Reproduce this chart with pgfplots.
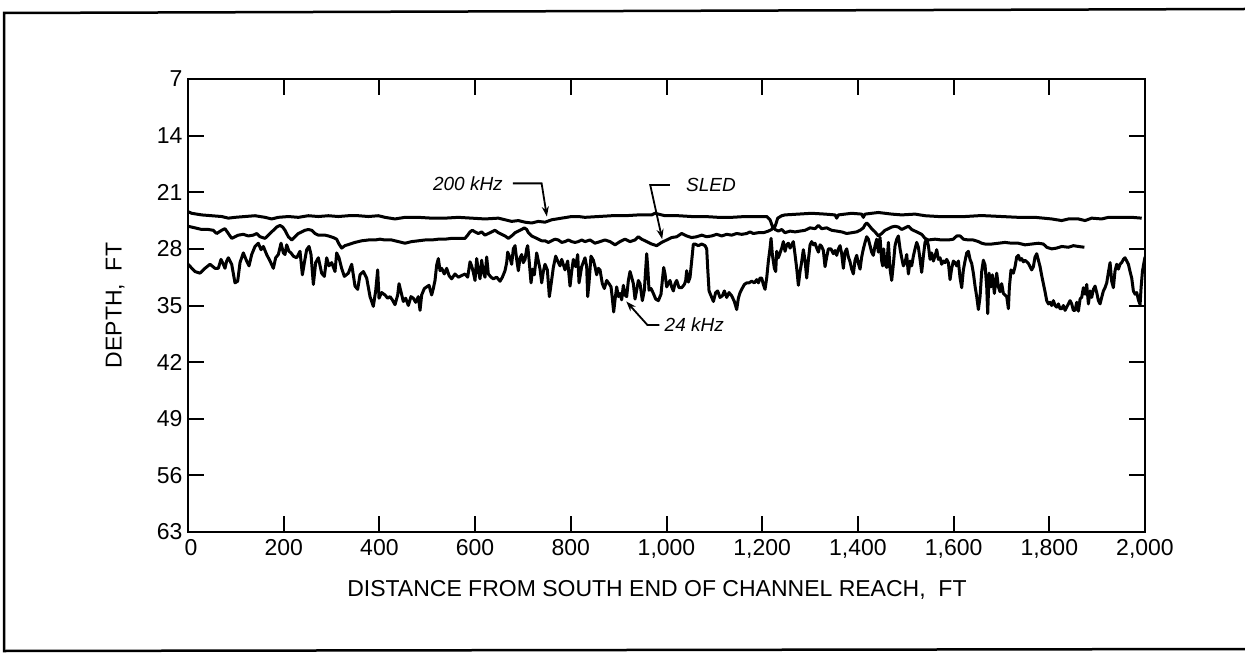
\documentclass[border=0pt]{standalone}
\usepackage{fontspec}
\setmainfont{Liberation Sans}
\usepackage{pgfplots}
\pgfplotsset{compat=1.18}
\usetikzlibrary{arrows.meta}
\begin{document}
\begin{tikzpicture}
\path[use as bounding box] (0pt,0pt) rectangle (1245pt,665pt);
\draw[line width=2.5pt] (1245pt,656pt) -- (4pt,652pt) -- (4pt,14pt) -- (1245pt,16pt);
\begin{axis}[
  at={(188pt,133pt)}, anchor=south west, scale only axis,
  width=957pt, height=453pt,
  xmin=0, xmax=2000, ymin=7, ymax=63, y dir=reverse,
  xtick={0,200,...,2000},
  xticklabels={\raisebox{-5pt}{\hspace{6pt}0},200,400,600,800,{1,000},{1,200},{1,400},{1,600},{1,800},{2,000}},
  ytick={7,14,...,63},
  tick align=inside, major tick length=16pt,
  axis line style={line width=2.6pt},
  tick style={line width=2pt, black},
  /pgf/number format/assume math mode=true,
  tick label style={font=\fontsize{23}{26}\selectfont},
  xticklabel style={yshift=-4pt},
  yticklabel style={xshift=-2pt},
  label style={font=\fontsize{23}{26}\selectfont},
  xlabel={DISTANCE FROM SOUTH END OF CHANNEL REACH,\ \ FT},
  ylabel={DEPTH,\ \ FT},
  xlabel style={at={(axis description cs:0.49,-0.128)}, anchor=center},
  ylabel style={at={(axis description cs:-0.076,0.5)}, anchor=center},
  clip=true,
]
% 200 kHz
\addplot[black, line width=3pt, line join=round] coordinates {
(0,23.4)(7.7,23.6)(28.6,23.8)(49.4,23.9)(70.4,24.0)(84.3,24.2)(98.2,24.1)(119.1,24.0)(140,23.9)(160.9,24.1)(174.9,24.3)(188.8,24.1)(209.7,24.0)(230.6,24.1)(251.5,23.9)(272.4,24.0)(293.3,23.9)(314.2,24.0)(335.1,23.9)(356,23.9)(377,24.0)(397.9,23.9)(411.7,24.1)(432.6,24.3)(453.5,24.1)(481.4,24.1)(509.2,24.2)(537.1,24.2)(565,24.1)(592.8,24.2)(620.7,24.3)(648.6,24.2)(662.5,24.4)(676.4,24.6)(690.4,24.5)(704.3,24.7)(718.2,24.8)(732.2,24.6)(746.1,24.7)(760.1,24.4)(781,24.2)(801.8,24.0)(815.8,24.0)(829.7,24.1)(857.6,24.0)(885.4,23.9)(913.3,23.9)(941.2,23.8)(969,23.8)(976,23.6)(996.9,23.9)(1024.8,23.9)(1052.6,24.0)(1080.5,24.0)(1108.4,24.1)(1136.2,24.1)(1164.1,24.0)(1192,24.0)(1209.4,24.0)(1216.4,24.4)(1221.2,25.2)(1225.4,25.4)(1228.2,25.0)(1232.4,24.2)(1240.8,23.9)(1247.7,23.8)(1275.6,23.7)(1303.4,23.6)(1331.3,23.7)(1352.2,23.8)(1355.7,24.2)(1359.2,23.8)(1387,23.6)(1407.9,23.7)(1411.4,24.1)(1414.9,23.7)(1442.8,23.5)(1470.6,23.7)(1491.5,23.8)(1519.4,23.7)(1540.3,23.9)(1568.2,24.0)(1596,24.0)(1623.9,24.0)(1651.8,23.9)(1665.7,23.9)(1700.5,24.0)(1735.4,24.1)(1770.2,24.1)(1805,24.3)(1825.9,24.5)(1839.9,24.3)(1860.8,24.3)(1874.7,24.5)(1888.6,24.2)(1909.5,24.3)(1923.5,24.1)(1944.4,24.1)(1972.2,24.1)(1993.1,24.2)
};
% SLED
\addplot[black, line width=3pt, line join=round] coordinates {
(0,25.2)(14.6,25.4)(28.6,25.6)(42.5,25.6)(52.9,25.7)(59.9,26.1)(70.4,25.7)(77.3,25.5)(84.3,26.1)(91.3,26.7)(98.2,26.5)(105.2,26.3)(115.6,26.2)(126.1,26.4)(136.5,26.3)(143.5,26.1)(150.5,26.5)(160.9,26.7)(171.4,26.1)(178.4,25.7)(185.3,25.3)(192.3,25.1)(197.9,25.3)(202.7,25.7)(209.7,26.5)(216.7,26.9)(223.6,26.5)(230.6,26.1)(237.6,25.9)(244.6,25.7)(251.5,25.6)(258.5,25.7)(265.5,26.1)(272.4,26.3)(279.4,26.3)(286.4,26.3)(293.3,26.4)(303.8,26.6)(310.7,26.8)(315.6,27.4)(321.1,27.9)(328.1,27.6)(338.6,27.4)(349,27.2)(363,27.0)(377,26.9)(390.9,26.9)(401.3,26.8)(411.7,26.9)(425.6,26.9)(439.6,27.1)(453.5,27.3)(467.4,27.1)(481.4,27.0)(495.3,26.9)(509.2,26.9)(523.2,26.8)(537.1,26.8)(551,26.7)(565,26.7)(578.9,26.7)(584.5,26.3)(589.4,25.9)(594.2,25.7)(599.8,25.9)(606.8,26.1)(613.7,25.9)(620.7,26.3)(627.7,26.1)(634.6,25.9)(641.6,25.7)(648.6,26.0)(655.5,26.2)(662.5,26.4)(669.5,26.7)(676.4,26.4)(683.4,26.0)(690.4,25.8)(697.3,25.6)(702.9,25.4)(707.8,25.6)(711.3,26.0)(718.2,26.4)(725.2,26.6)(732.2,26.8)(739.2,27.0)(746.1,27.0)(753.1,27.2)(760.1,27.0)(767,26.8)(774,26.9)(781,27.2)(787.9,27.1)(794.9,26.9)(801.8,27.1)(808.8,27.2)(815.8,27.1)(822.7,26.9)(829.7,27.1)(840.2,26.9)(850.6,27.3)(861.1,27.1)(871.5,26.9)(882,27.1)(892.4,27.5)(902.9,27.1)(913.3,26.8)(923.8,27.1)(934.2,26.9)(941.2,26.5)(948.1,26.8)(958.6,27.1)(969,27.4)(979.5,27.6)(989.9,27.2)(1000.4,26.9)(1010.8,26.6)(1021.3,26.5)(1031.7,26.1)(1042.2,26.4)(1052.6,26.6)(1063.1,26.5)(1073.5,26.3)(1084,26.5)(1094.4,26.4)(1104.9,26.2)(1115.3,26.4)(1125.8,26.2)(1136.2,26.3)(1146.7,26.1)(1157.1,26.2)(1167.6,26.1)(1174.6,25.9)(1181.5,26.1)(1192,26.0)(1202.4,26.0)(1212.9,25.8)(1219.9,25.6)(1223.3,25.2)(1226.8,25.6)(1233.8,25.8)(1240.8,25.6)(1247.7,26.0)(1258.2,25.8)(1268.6,25.9)(1279.1,25.8)(1289.5,25.7)(1300,25.4)(1310.4,25.5)(1317.4,25.1)(1324.3,25.5)(1334.8,25.4)(1345.2,25.7)(1355.7,25.8)(1366.1,25.9)(1376.6,26.1)(1387,26.0)(1397.5,25.9)(1404.5,25.7)(1411.4,25.4)(1414.9,25.0)(1418.4,24.8)(1421.9,25.0)(1428.8,25.5)(1435.8,25.9)(1442.8,26.4)(1449.7,26.1)(1456.7,25.7)(1463.7,25.5)(1470.6,25.3)(1477.6,25.2)(1484.6,25.3)(1491.5,25.6)(1498.5,25.4)(1505.5,25.2)(1512.4,25.6)(1519.4,25.8)(1526.4,26.0)(1533.3,26.2)(1540.3,26.7)(1547.3,26.9)(1561.2,26.8)(1575.1,26.9)(1589.1,26.9)(1599.5,26.8)(1606.5,26.4)(1613.5,26.4)(1620.4,26.8)(1630.9,26.9)(1641.3,26.9)(1651.8,27.1)(1658.7,27.3)(1665.7,27.4)(1679.6,27.4)(1693.6,27.3)(1707.5,27.2)(1721.4,27.3)(1735.4,27.3)(1749.3,27.5)(1763.2,27.4)(1777.2,27.3)(1787.6,27.4)(1794.6,27.8)(1805,28.0)(1815.5,27.9)(1825.9,27.7)(1839.9,27.8)(1850.3,27.6)(1860.8,27.7)(1873.3,27.8)
};
% 24 kHz
\addplot[black, line width=3pt, line join=round] coordinates {
(0,29.9)(14.6,30.8)(25,31.0)(35.5,30.4)(46,29.9)(56.4,30.4)(63.4,30.4)(69,29.3)(73.8,29.9)(77.3,30.4)(80.8,29.5)(84.3,29.1)(91.3,29.9)(98.2,32.2)(103.8,32.0)(108.7,29.7)(115.6,28.5)(122.6,29.5)(127.5,30.1)(133.1,28.7)(140,27.7)(147,27.3)(152.6,28.1)(157.5,27.7)(164.4,28.7)(171.4,29.5)(178.4,30.4)(183.2,29.1)(188.8,28.7)(194.4,27.3)(199.3,28.5)(202.7,28.7)(206.2,27.5)(211.1,28.3)(215.3,28.5)(220.2,28.9)(227.1,29.1)(234.1,28.3)(239,31.2)(243.2,29.7)(248,28.1)(252.9,27.7)(257.1,28.7)(262,32.4)(266.8,29.7)(272.4,29.1)(279.3,31.0)(285,31.4)(289.8,29.1)(294.7,30.1)(300.3,29.7)(307.2,30.8)(310.7,28.5)(315.6,29.1)(321.1,30.4)(326.7,31.4)(335.1,31.0)(342.1,29.9)(349,32.6)(354.6,33.0)(359.5,31.2)(366.5,30.8)(373.4,31.6)(380.4,33.9)(387.3,35.1)(392.2,33.2)(396.4,30.6)(399.2,34.1)(404.8,33.4)
(411.7,33.7)(417.3,34.1)(422.2,33.9)(427,34.3)(432.6,34.9)(438.2,33.7)(441,32.3)(445.1,33.3)(450,34.5)(454.9,34.1)(460.5,35.0)(466,33.9)(470.9,34.1)(475.8,34.6)(481.4,33.9)(484.9,35.6)(488.3,33.7)(493.9,32.9)(498.8,32.7)(503.7,32.5)(509.2,33.7)(512.7,32.9)(516.2,31.9)(519.7,30.0)(523.2,29.2)(526.7,30.7)(530.1,30.4)(535.7,31.1)(540.6,30.4)(545.5,31.3)(551,31.7)(558,31.1)(565,31.5)(571.9,31.3)(578.9,31.1)(584.5,31.5)(589.4,29.6)(592.8,30.1)(596.3,30.9)(599.8,31.9)(603.3,29.2)(606.8,30.7)(610.3,31.7)(613.7,29.4)(617.2,30.9)(620.7,31.5)(624.2,29.0)(627.7,31.1)(633.3,31.5)(638.1,31.7)(645.1,31.5)(652.1,32.0)(657,31.5)(662.5,30.7)(666,29.7)(668.1,28.4)(673,29.1)(676.4,29.9)(679.9,28.0)(683.4,27.6)(686.9,29.3)(690.4,30.7)(693.9,29.1)(697.3,28.7)(700.8,29.7)(704.3,29.3)(707.8,28.0)(709.9,27.6)(712.7,29.3)(716.9,32.2)(720.3,30.5)(723.8,31.2)(728.7,28.5)(732.2,29.5)(735.7,30.5)(739.2,32.2)(742.6,30.8)(746.1,29.9)(751,30.6)(755.2,33.9)(760.1,31.8)(763.5,30.3)(768.4,28.9)(772.6,29.5)(777.5,30.1)(781,29.3)(787.9,30.6)(793.5,29.5)(798.4,32.6)(801.8,30.8)(805.3,29.3)(810.2,30.2)(814.4,28.7)(817.2,32.2)(822.7,30.2)
(829.7,29.1)(833.2,30.2)(835.3,33.9)(838.1,32.2)(842.2,28.9)(847.1,29.4)(850.6,30.2)(854.1,31.2)(857.6,30.4)(861.1,30.6)(865.9,32.3)(870.1,32.9)(875,31.9)(879.9,32.3)(884.1,32.7)(886.8,34.1)(889.6,35.8)(892.4,34.3)(895.9,32.7)(899.4,33.9)(902.9,33.5)(906.3,34.3)(909.8,32.5)(913.3,33.7)(916.8,33.9)(920.3,31.9)(923.8,30.8)(927.2,31.5)(930.7,32.3)(934.2,34.2)(937.7,33.1)(941.2,31.9)(944.7,32.3)(949.5,34.4)(953.7,33.1)(958.6,28.6)(960.7,30.2)(963.5,33.1)(967.7,32.9)(972.5,33.5)(977.4,34.2)(983,34.4)(988.5,33.6)(991.3,31.9)(994.1,30.3)(996.9,31.1)(1000.4,32.7)(1003.9,32.3)(1007.3,31.9)(1010.8,32.7)(1014.3,33.2)(1017.8,32.3)(1021.3,31.9)(1026.2,32.8)(1031.7,32.8)(1037.3,32.4)(1040.1,31.9)(1042.2,30.7)(1045.7,32.1)(1049.2,31.5)(1052.6,29.5)(1056.1,27.4)(1059.6,27.4)(1066.6,27.6)(1073.5,27.4)(1080.5,27.6)(1084,28.0)(1086.1,30.4)(1088.9,33.2)(1093.1,33.8)(1098,34.5)(1102.8,33.4)(1107,33.2)(1111.9,34.0)(1116.8,33.8)(1120.9,33.2)(1125.8,34.0)(1130.7,33.4)(1136.2,33.8)(1141.8,34.5)(1146.7,35.5)(1150.2,34.1)(1153.7,33.4)(1157.1,33.0)(1162.7,32.4)(1167.6,32.2)(1172.5,32.2)(1178,32.0)(1183.6,32.2)(1188.5,31.8)(1192,32.2)(1195.5,31.6)(1198.9,31.6)(1202.4,32.4)(1205.9,33.0)(1209.4,31.6)(1212.9,29.5)(1216.4,27.9)(1218.5,26.7)(1221.2,28.7)(1225.4,30.4)(1228.2,30.8)(1230.3,28.3)(1233.8,29.1)(1237.3,28.5)(1240.8,27.9)(1244.2,27.1)
(1247.7,28.3)(1251.2,27.5)(1254.7,27.3)(1258.2,27.9)(1261.6,27.5)(1265.1,27.1)(1268.6,28.7)(1272.1,30.4)(1275.6,32.5)(1279.1,30.8)(1282.5,29.6)(1286,28.1)(1289.5,29.4)(1293,31.6)(1296.5,29.4)(1300,27.5)(1303.4,27.1)(1306.9,27.5)(1310.4,27.3)(1313.9,27.9)(1317.4,28.4)(1320.9,27.5)(1324.3,27.7)(1327.8,28.2)(1331.3,30.2)(1334.8,29.0)(1338.3,28.0)(1343.8,28.0)(1348.7,28.6)(1352.2,28.2)(1355.7,28.8)(1359.2,28.0)(1362.7,27.6)(1366.1,28.6)(1369.6,30.4)(1373.1,28.4)(1376.6,28.0)(1380.1,29.0)(1383.6,29.6)(1387,30.5)(1390.5,31.1)(1394,29.4)(1397.5,28.8)(1401,29.8)(1404.5,30.5)(1407.9,29.0)(1411.4,28.0)(1414.9,27.2)(1418.4,26.5)(1421.9,26.8)(1425.4,27.6)(1428.8,28.4)(1432.3,28.8)(1435.8,27.6)(1439.3,26.8)(1442.8,28.4)(1446.3,26.6)(1449.7,29.5)(1451.8,30.1)(1453.9,28.0)(1456.7,29.9)(1460.2,30.3)(1463.7,27.2)(1467.2,30.5)(1470.6,31.9)(1474.1,29.9)(1477.6,27.6)(1481.1,26.8)(1484.6,26.4)(1488.1,28.0)(1491.5,29.1)(1495,30.1)(1498.5,29.7)(1502,28.7)(1505.5,31.1)(1509,29.5)(1512.4,30.1)(1515.9,28.9)(1519.4,28.0)(1522.9,27.2)(1526.4,27.8)(1529.9,29.3)(1533.3,30.9)(1536.8,28.9)(1540.3,27.2)(1543.8,26.8)(1547.3,27.6)(1550.8,29.3)(1554.2,28.5)(1557.7,29.5)(1561.2,28.9)(1564.7,28.1)(1568.2,29.3)(1571.7,29.1)(1575.1,29.9)(1578.6,29.5)(1582.1,29.7)(1585.6,29.3)(1589.1,29.7)(1592.6,31.8)(1596,30.4)(1599.5,29.5)(1603,29.7)(1606.5,30.1)(1610,29.5)(1613.5,31.6)(1616.9,32.8)(1620.4,30.6)(1623.9,29.5)(1627.4,28.5)(1630.9,28.3)(1634.4,29.3)(1637.8,29.8)(1641.3,31.0)(1644.8,32.6)(1648.3,33.9)(1651.8,35.5)(1655.3,33.9)(1658.7,30.8)(1662.2,29.4)
(1665.7,30.0)(1669.2,32.7)(1671.3,36.0)(1674.1,31.0)(1678.2,32.7)(1681,31.2)(1685.2,33.5)(1690.1,31.0)(1693.6,32.7)(1697.1,33.3)(1700.5,32.3)(1704,33.5)(1707.5,33.7)(1711,33.9)(1714.5,35.4)(1716.6,32.7)(1720,30.6)(1724.9,31.0)(1728.4,30.2)(1731.9,29.0)(1735.4,28.8)(1738.9,29.4)(1742.3,29.2)(1745.8,29.6)(1749.3,29.4)(1752.8,29.6)(1756.3,29.8)(1759.8,30.2)(1763.2,30.6)(1766.7,30.2)(1770.2,29.0)(1773.7,28.6)(1777.2,29.4)(1780.7,30.2)(1784.1,31.3)(1787.6,32.3)(1791.1,33.3)(1794.6,34.4)(1798.1,34.8)(1801.6,34.6)(1805,35.0)(1808.5,34.4)(1812,35.0)(1815.5,35.2)(1819,34.8)(1822.5,35.4)(1825.9,35.4)(1829.4,35.0)(1832.9,35.6)(1836.4,35.2)(1839.9,34.8)(1843.4,34.4)(1846.8,34.8)(1850.3,35.6)(1853.8,35.6)(1857.3,34.6)(1860.8,35.7)(1864.3,34.2)(1867.7,34.0)(1871.2,32.8)(1874.7,33.6)(1878.2,32.4)(1881.7,34.8)(1885.2,33.2)(1888.6,34.0)(1892.1,33.0)(1895.6,32.6)(1899.1,33.4)(1902.6,34.4)(1906.1,34.8)(1909.5,34.0)(1913,33.2)(1916.5,32.8)(1920,32.2)(1923.5,30.9)(1927,29.7)(1930.4,32.0)(1933.9,32.8)(1937.4,30.7)(1940.9,29.9)(1944.4,30.5)(1947.9,29.9)(1951.3,29.7)(1954.8,29.3)(1958.3,29.1)(1961.8,29.5)(1965.3,29.9)(1968.8,30.8)(1972.2,31.6)(1975.7,33.2)(1979.2,33.6)(1982.7,33.4)(1986.2,34.3)(1989.7,34.9)(1991.8,32.8)(1994.6,30.8)(1996.6,30.1)(2000,29.0)
};
% annotations
\node[font=\fontsize{19}{22}\selectfont\itshape] at (axis cs:585,19.9) {200 kHz};
\draw[line width=1.8pt,-{Stealth[length=10pt,width=7pt]}] (axis cs:679,19.9) -- (axis cs:739,19.9) -- (axis cs:750,24.0);
\node[font=\fontsize{19}{22}\selectfont\itshape] at (axis cs:1093,20.1) {SLED};
\draw[line width=1.8pt,-{Stealth[length=10pt,width=7pt]}] (axis cs:1007,20.1) -- (axis cs:966,20.1) -- (axis cs:991,26.8);
\node[font=\fontsize{19}{22}\selectfont\itshape] at (axis cs:1058,37.4) {24 kHz};
\draw[line width=1.8pt,-{Stealth[length=10pt,width=7pt]}] (axis cs:985,37.4) -- (axis cs:960,37.4) -- (axis cs:916,34.5);
\end{axis}
\end{tikzpicture}
\end{document}
